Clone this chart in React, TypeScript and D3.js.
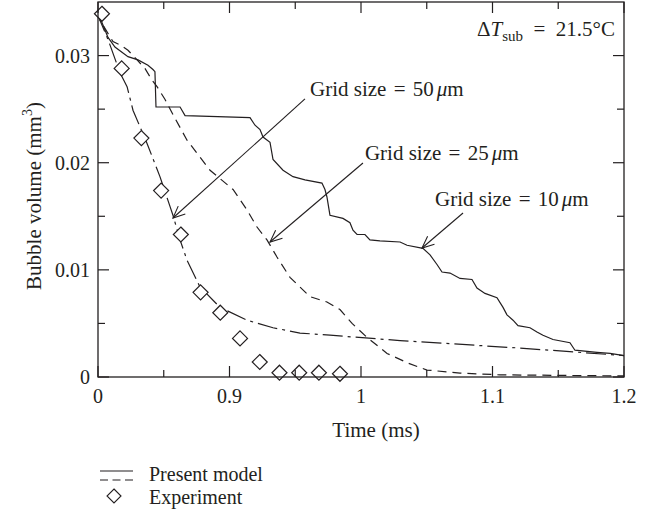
import React from 'react';
import * as d3 from 'd3';

// ---- axis ticks ----
const xTickValues = [0.8, 0.9, 1.0, 1.1, 1.2];
const xTickLabels = ['0', '0.9', '1', '1.1', '1.2'];
const xMinorTicks = [0.85, 0.95, 1.05, 1.15];
const yTickValues = [0, 0.01, 0.02, 0.03];
const yTickLabels = ['0', '0.01', '0.02', '0.03'];
const yMinorTicks = [0.005, 0.015, 0.025];

// ---- series: [time (ms), volume (mm^3)] ----
const grid10: [number, number][] = [
  [0.8, 0.0340], [0.8076, 0.0317], [0.8129, 0.0308], [0.8228, 0.0299], [0.8304, 0.0296],
  [0.838, 0.0291], [0.8418, 0.0287], [0.8433, 0.0285], [0.8441, 0.0252], [0.8624, 0.0252],
  [0.8662, 0.0244], [0.9156, 0.0242], [0.9194, 0.0235], [0.9232, 0.0231], [0.9255, 0.0224],
  [0.9308, 0.0219], [0.9331, 0.0203], [0.9407, 0.0193], [0.9483, 0.0187], [0.9574, 0.0184],
  [0.9703, 0.0181], [0.9726, 0.0175], [0.9741, 0.0168], [0.9764, 0.0151], [0.9863, 0.0148],
  [0.9916, 0.0144], [0.9939, 0.0137], [0.997, 0.0133], [1.003, 0.0133], [1.0068, 0.0128],
  [1.0144, 0.0127], [1.0297, 0.0126], [1.035, 0.0123], [1.0471, 0.0120], [1.0525, 0.0114],
  [1.0578, 0.0105], [1.0616, 0.0098], [1.0677, 0.0097], [1.0753, 0.0092], [1.0844, 0.0091],
  [1.0882, 0.0083], [1.0943, 0.0078], [1.1034, 0.0074], [1.108, 0.0065], [1.111, 0.0058],
  [1.1156, 0.0053], [1.1194, 0.0048], [1.1285, 0.0046], [1.1338, 0.0042], [1.1384, 0.0039],
  [1.146, 0.0035], [1.1589, 0.0032], [1.1627, 0.0025], [1.1795, 0.0023], [1.1894, 0.0022],
  [1.2, 0.0020],
];

const grid25: [number, number][] = [
  [0.8, 0.0340], [0.8015, 0.0333], [0.8114, 0.0313], [0.8167, 0.0310], [0.8228, 0.0305],
  [0.8297, 0.0296], [0.8357, 0.0288], [0.8411, 0.0277], [0.8449, 0.0271], [0.851, 0.0259],
  [0.857, 0.0245], [0.8677, 0.0221], [0.8852, 0.0193], [0.9027, 0.0175], [0.9133, 0.0156],
  [0.9209, 0.0140], [0.9285, 0.0128], [0.9361, 0.0112], [0.946, 0.0093], [0.9612, 0.0075],
  [0.9741, 0.0070], [0.984, 0.0063], [0.9932, 0.0050], [1.0046, 0.0037], [1.0198, 0.0022],
  [1.0357, 0.0013], [1.0502, 0.00065], [1.0753, 0.00037], [1.1057, 0.0002], [1.2, 0.0001],
];

const grid50: [number, number][] = [
  [0.8, 0.0340], [0.8015, 0.0333], [0.8076, 0.0315], [0.8091, 0.0310], [0.8167, 0.0284],
  [0.8221, 0.0271], [0.8266, 0.0249], [0.8373, 0.0218], [0.8471, 0.0187], [0.8548, 0.0159],
  [0.857, 0.0151], [0.8624, 0.0128], [0.8677, 0.0109], [0.8776, 0.0084], [0.8928, 0.0065],
  [0.9133, 0.0053], [0.9331, 0.0046], [0.9536, 0.0041], [0.9764, 0.0039], [1.0297, 0.0034],
  [1.1209, 0.0027], [1.2, 0.0020],
];

const experimentTime = [0.803, 0.818, 0.833, 0.848, 0.863, 0.878, 0.893, 0.908, 0.923, 0.938, 0.953, 0.968, 0.984];
const experimentVolume = [0.0339, 0.0288, 0.0223, 0.0174, 0.0133, 0.0079, 0.0060, 0.0036, 0.0014, 0.0004, 0.0004, 0.0004, 0.0003];

// annotations: label anchor and arrow (start -> tip), in data units
const gridLabels = ['50', '25', '10'];
const labelPos: [number, number][] = [[0.9612, 0.0262], [1.003, 0.0203], [1.0563, 0.0160]];
const arrowStart: [number, number][] = [[0.9574, 0.02595], [1.0015, 0.01997], [1.0776, 0.01531]];
const arrowTip: [number, number][] = [[0.857, 0.01484], [0.9308, 0.0126], [1.0464, 0.01204]];
const deltaTPos: [number, number] = [1.0882, 0.0318];

const W = 654;
const H = 518;
const margin = { left: 98, right: 30, top: 2, bottom: 141 };
const FONT = '"Liberation Serif", "Times New Roman", serif';
const INK = '#231f20';

export default function App() {
  const x = d3.scaleLinear().domain([0.8, 1.2]).range([margin.left, W - margin.right]);
  const y = d3.scaleLinear().domain([0, 0.035]).range([H - margin.bottom, margin.top]);
  const line = d3.line<[number, number]>().x((d) => x(d[0])).y((d) => y(d[1]));
  const x0 = x.range()[0], x1 = x.range()[1];
  const y0 = y.range()[0], y1 = y.range()[1];
  const majorLen = 11, minorLen = 7;

  const arrowHead = (s: [number, number], t: [number, number]) => {
    const sx = x(s[0]), sy = y(s[1]), tx = x(t[0]), ty = y(t[1]);
    const ang = Math.atan2(sy - ty, sx - tx);
    const L = 13, a = (24 * Math.PI) / 180;
    const p1 = [tx + L * Math.cos(ang + a), ty + L * Math.sin(ang + a)];
    const p2 = [tx + L * Math.cos(ang - a), ty + L * Math.sin(ang - a)];
    return `M${p1[0]},${p1[1]}L${tx},${ty}L${p2[0]},${p2[1]}`;
  };

  const dsq = (cx: number, cy: number, r: number) =>
    `M${cx},${cy - r}L${cx + r},${cy}L${cx},${cy + r}L${cx - r},${cy}Z`;

  return (
    <svg width={W} height={H} style={{ position: 'absolute', left: 0, top: 0, background: '#fff' }}
      fontFamily={FONT} fill={INK}>
      <rect x={0} y={0} width={W} height={H} fill="#fff" />
      {/* series */}
      <g fill="none" stroke={INK} strokeWidth={1.2}>
        <path d={line(grid10) || ''} />
        <path d={line(grid25) || ''} strokeDasharray="9,6" />
        <path d={line(grid50) || ''} strokeDasharray="20,5,3,5" />
      </g>
      {/* experiment */}
      <g fill="#fff" stroke={INK} strokeWidth={1.2}>
        {experimentTime.map((t, i) => (
          <path key={i} d={dsq(x(t), y(experimentVolume[i]), 7.5)} />
        ))}
      </g>
      {/* frame */}
      <rect x={x0} y={y1} width={x1 - x0} height={y0 - y1} fill="none" stroke={INK} strokeWidth={1.3} />
      {/* ticks */}
      <g stroke={INK} strokeWidth={1.2}>
        {xTickValues.map((v, i) => (
          <g key={'xt' + i}>
            <line x1={x(v)} x2={x(v)} y1={y0} y2={y0 - majorLen} />
            <line x1={x(v)} x2={x(v)} y1={y1} y2={y1 + majorLen} />
          </g>
        ))}
        {xMinorTicks.map((v, i) => (
          <g key={'xm' + i}>
            <line x1={x(v)} x2={x(v)} y1={y0} y2={y0 - minorLen} />
            <line x1={x(v)} x2={x(v)} y1={y1} y2={y1 + minorLen} />
          </g>
        ))}
        {yTickValues.map((v, i) => (
          <g key={'yt' + i}>
            <line x1={x0} x2={x0 + majorLen} y1={y(v)} y2={y(v)} />
            <line x1={x1} x2={x1 - majorLen} y1={y(v)} y2={y(v)} />
          </g>
        ))}
        {yMinorTicks.map((v, i) => (
          <g key={'ym' + i}>
            <line x1={x0} x2={x0 + minorLen} y1={y(v)} y2={y(v)} />
            <line x1={x1} x2={x1 - minorLen} y1={y(v)} y2={y(v)} />
          </g>
        ))}
      </g>
      {/* tick labels */}
      <g fontSize={20}>
        {xTickValues.map((v, i) => (
          <text key={'xl' + i} x={x(v)} y={y0 + 26} textAnchor="middle">{xTickLabels[i]}</text>
        ))}
        {yTickValues.map((v, i) => (
          <text key={'yl' + i} x={x0 - 8} y={y(v) + 7} textAnchor="end">{yTickLabels[i]}</text>
        ))}
      </g>
      {/* axis titles */}
      <text x={376} y={437} fontSize={21} textAnchor="middle">Time (ms)</text>
      <text transform={`translate(41,196) rotate(-90)`} fontSize={21} textAnchor="middle">
        Bubble volume (mm<tspan fontSize={14} dy={-9}>3</tspan><tspan dy={9}>)</tspan>
      </text>
      {/* annotations */}
      <g fontSize={21}>
        {gridLabels.map((g, i) => (
          <text key={'gl' + i} x={x(labelPos[i][0])} y={y(labelPos[i][1])} style={{ whiteSpace: 'pre' }}>
            {'Grid size '}<tspan dx={2}>{'= '}</tspan><tspan dx={2}>{g}</tspan><tspan dx={3} fontStyle="italic">μ</tspan>m
          </text>
        ))}
        <text x={x(deltaTPos[0])} y={y(deltaTPos[1])} style={{ whiteSpace: 'pre' }}>
          Δ<tspan fontStyle="italic">T</tspan><tspan fontSize={15} dy={5}>sub</tspan>
          <tspan dy={-5}>{'  =  21.5°C'}</tspan>
        </text>
      </g>
      <g fill="none" stroke={INK} strokeWidth={1.1}>
        {arrowStart.map((s, i) => (
          <g key={'ar' + i}>
            <line x1={x(s[0])} y1={y(s[1])} x2={x(arrowTip[i][0])} y2={y(arrowTip[i][1])} />
            <path d={arrowHead(s, arrowTip[i])} />
          </g>
        ))}
      </g>
      {/* legend */}
      <g stroke={INK} strokeWidth={1.1}>
        <line x1={100} x2={133} y1={471} y2={471} />
        <line x1={100} x2={133} y1={480} y2={480} strokeDasharray="8,4.5" />
        <path d={dsq(114, 496, 7)} fill="#fff" />
      </g>
      <g fontSize={20}>
        <text x={149} y={481}>Present model</text>
        <text x={149} y={504}>Experiment</text>
      </g>
    </svg>
  );
}
